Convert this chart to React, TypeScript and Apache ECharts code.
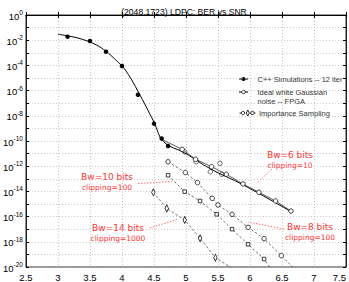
import React, { useEffect, useRef } from 'react';
import * as echarts from 'echarts';

// x: SNR (dB); y: log10(BER)
const xTicks = [2.5, 3, 3.5, 4, 4.5, 5, 5.5, 6, 6.5, 7, 7.5];

const cppSnr = [3.15, 3.5, 3.75, 4.0, 4.25, 4.5, 4.62, 4.72];
const cppLogBer = [-1.72, -2.06, -2.91, -4.05, -6.33, -8.62, -9.8, -10.4];

const cppFitSnr = [3.0, 3.2, 3.4, 3.6, 3.75, 3.9, 4.0, 4.1, 4.25, 4.5, 4.65, 4.98, 5.38, 5.9, 6.64];
const cppFitLogBer = [-1.53, -1.7, -1.96, -2.38, -2.88, -3.55, -4.05, -4.72, -6.05, -8.5, -10.05, -10.95, -12.2, -13.5, -15.6];

const idealSnr = [4.62, 4.94, 5.15, 5.4, 5.63, 5.89, 6.14, 6.4, 6.64];
const idealLogBer = [-9.87, -10.66, -11.45, -12.04, -12.64, -13.41, -14.07, -14.76, -15.56];

const bw6Snr = [4.98, 5.16, 5.38, 5.53, 5.56];
const bw6LogBer = [-10.85, -11.64, -12.44, -11.77, -12.64];

const bw8Snr = [4.72, 4.99, 5.18, 5.41, 5.5, 5.72, 5.97, 6.22, 6.49, 6.76];
const bw8LogBer = [-11.65, -12.5, -13.3, -14.55, -15.08, -15.82, -16.85, -17.75, -19.1, -20.5];

const bw10Snr = [4.72, 4.98, 5.22, 5.48, 5.72, 5.97, 6.22, 6.38];
const bw10LogBer = [-12.72, -14.02, -14.76, -15.82, -17.0, -18.2, -19.37, -20.5];

const bw14Snr = [4.49, 4.7, 4.98, 5.22, 5.46, 5.75];
const bw14LogBer = [-14.07, -15.35, -16.27, -17.72, -19.26, -20.2];

const title = '(2048,1723) LDPC: BER vs SNR';
const legendLabels = ['C++ Simulations -- 12 iter', 'Ideal white Gaussian', 'noise -- FPGA', 'Importance Sampling'];
const annotations = [
  { big: 'Bw=6 bits', small: 'clipping=10', x: 290, y: 155, from: [272, 169], to: [257, 183] },
  { big: 'Bw=8 bits', small: 'clipping=100', x: 310, y: 227, from: [284, 229], to: [248, 222] },
  { big: 'Bw=10 bits', small: 'clipping=100', x: 107, y: 177, from: [138, 183.5], to: [172, 181.5] },
  { big: 'Bw=14 bits', small: 'clipping=1000', x: 118, y: 228, from: [150, 228], to: [177, 219.5] },
];

const zip = (xs: number[], ys: number[]) => xs.map((x, i) => [x, ys[i]]);

export default function App() {
  const ref = useRef<HTMLDivElement>(null);
  useEffect(() => {
    if (!ref.current) return;
    const chart = echarts.init(ref.current, null, { renderer: 'svg' });
    const red = '#ff3030';
    const lineBase = { type: 'line', animation: false, clip: true };
    const bw8Data = zip(bw8Snr, bw8LogBer).map((p, i) => (i === bw8Snr.length - 1 ? { value: p, symbol: 'none' } : p));
    const bw10Data = zip(bw10Snr, bw10LogBer).map((p, i) => (i === bw10Snr.length - 1 ? { value: p, symbol: 'none' } : p));
    const idealData = zip(idealSnr, idealLogBer).map((p, i) => (i === 0 ? { value: p, symbol: 'none' } : p));
    const dashed = { color: '#333', width: 0.7, type: [2.5, 2] };
    const openItem = { color: '#fff', borderColor: '#111', borderWidth: 0.8 };
    const graphics: any[] = [];
    const lx = 239, lx2 = 248;
    const lfont = '7.5px "Liberation Sans"';
    graphics.push(
      { type: 'line', shape: { x1: lx, y1: 79, x2: lx2, y2: 79 }, style: { stroke: '#000', lineWidth: 1 } },
      { type: 'circle', shape: { cx: 243.5, cy: 79, r: 2 }, style: { fill: '#000' } },
      { type: 'text', x: 257.5, y: 79, style: { text: legendLabels[0], font: lfont, fill: '#333', verticalAlign: 'middle' } },
      { type: 'line', shape: { x1: lx, y1: 92, x2: lx2, y2: 92 }, style: { stroke: '#000', lineWidth: 1 } },
      { type: 'circle', shape: { cx: 243.5, cy: 92, r: 1.8 }, style: { fill: '#fff', stroke: '#000', lineWidth: 0.8 } },
      { type: 'text', x: 257.5, y: 92, style: { text: legendLabels[1], font: lfont, fill: '#333', verticalAlign: 'middle' } },
      { type: 'text', x: 257.5, y: 101, style: { text: legendLabels[2], font: lfont, fill: '#333', verticalAlign: 'middle' } },
      { type: 'line', shape: { x1: 239.5, y1: 113, x2: 256, y2: 113 }, style: { stroke: '#000', lineWidth: 0.8, lineDash: [2, 1.5] } },
      { type: 'circle', shape: { cx: 243, cy: 113, r: 1.7 }, style: { fill: '#fff', stroke: '#000', lineWidth: 0.8 } },
      { type: 'polygon', shape: { points: [[247.8, 110], [249.3, 113], [247.8, 116], [246.3, 113]] }, style: { fill: '#fff', stroke: '#000', lineWidth: 0.8 } },
      { type: 'circle', shape: { cx: 252.5, cy: 113, r: 1.7 }, style: { fill: '#fff', stroke: '#000', lineWidth: 0.8 } },
      { type: 'text', x: 259, y: 113, style: { text: legendLabels[3], font: lfont, fill: '#333', verticalAlign: 'middle' } },
    );
    annotations.forEach((a) => {
      graphics.push(
        { type: 'text', x: a.x, y: a.y, style: { text: a.big, font: '9px "DejaVu Sans"', fill: red, align: 'center', verticalAlign: 'middle' } },
        { type: 'text', x: a.x, y: a.y + 10, style: { text: a.small, font: '7.5px "DejaVu Sans"', fill: red, align: 'center', verticalAlign: 'middle' } },
        { type: 'line', shape: { x1: a.from[0], y1: a.from[1], x2: a.to[0], y2: a.to[1] }, style: { stroke: red, lineWidth: 0.7, lineDash: [1.5, 1.5] } },
      );
    });
    const gridLine = { show: true, lineStyle: { color: '#b0b0b0', type: [1, 2], width: 0.7 } };
    chart.setOption({
      animation: false,
      textStyle: { fontFamily: 'Liberation Sans' },
      title: {
        text: title,
        left: 179,
        textAlign: 'center',
        top: 2,
        textStyle: { fontSize: 8.6, fontWeight: 'normal', color: '#000', fontFamily: 'Liberation Sans' },
      },
      grid: { left: 23, right: 1, top: 15, bottom: 15, show: true, borderColor: '#000', borderWidth: 0.8, backgroundColor: 'transparent' },
      xAxis: [
        {
          type: 'value', min: xTicks[0], max: xTicks[xTicks.length - 1], interval: 0.5,
          axisLine: { lineStyle: { color: '#000', width: 0.8 } },
          axisTick: { inside: true, length: 3, lineStyle: { color: '#000' } },
          axisLabel: { color: '#000', fontSize: 9.5, margin: 5, alignMaxLabel: 'right' },
          splitLine: gridLine,
        },
        {
          type: 'value', position: 'top', min: xTicks[0], max: xTicks[xTicks.length - 1], interval: 0.5,
          axisLine: { show: true, lineStyle: { color: '#000', width: 0.8 } },
          axisTick: { inside: true, length: 3, lineStyle: { color: '#000' } },
          axisLabel: { show: false }, splitLine: { show: false },
        },
      ],
      yAxis: [
        {
          type: 'value', min: -20, max: 0, interval: 1,
          axisLine: { show: true, lineStyle: { color: '#000', width: 0.8 } },
          axisTick: { inside: true, length: 3, lineStyle: { color: '#000' } },
          axisLabel: {
            color: '#000', margin: 3,
            formatter: (v: number) => (Math.round(v) % 2 === 0 ? `{b|10}{s|${v}}` : ''),
            rich: {
              b: { fontSize: 9.5, color: '#000', fontFamily: 'Liberation Sans', verticalAlign: 'bottom', lineHeight: 12 },
              s: { fontSize: 6.5, color: '#000', fontFamily: 'Liberation Sans', verticalAlign: 'top', lineHeight: 12 },
            },
          },
          splitLine: gridLine,
        },
        {
          type: 'value', position: 'right', min: -20, max: 0, interval: 1,
          axisLine: { show: true, lineStyle: { color: '#000', width: 0.8 } },
          axisTick: { inside: true, length: 3, lineStyle: { color: '#000' } },
          axisLabel: { show: false }, splitLine: { show: false },
        },
      ],
      series: [
        {
          ...lineBase, name: 'cppFit', data: zip(cppFitSnr, cppFitLogBer), showSymbol: false, symbol: 'none',
          smooth: 0.4, lineStyle: { color: '#000', width: 1 },
        },
        {
          ...lineBase, name: 'C++ Simulations -- 12 iter', data: zip(cppSnr, cppLogBer),
          symbol: 'circle', symbolSize: 4.5, lineStyle: { width: 0 }, itemStyle: { color: '#000' },
        },
        {
          ...lineBase, name: 'Ideal white Gaussian noise -- FPGA', data: idealData,
          symbol: 'circle', symbolSize: 4.5, showAllSymbol: true, lineStyle: { color: '#333', width: 0.8 },
          itemStyle: openItem,
        },
        {
          type: 'scatter', name: 'bw6', data: zip(bw6Snr, bw6LogBer), symbol: 'circle', symbolSize: 4.5,
          itemStyle: openItem,
        },
        {
          ...lineBase, name: 'bw8', data: bw8Data, symbol: 'circle', symbolSize: 4.5, showAllSymbol: true, lineStyle: dashed,
          itemStyle: openItem,
        },
        {
          ...lineBase, name: 'bw10', data: bw10Data, symbol: 'rect', symbolSize: 3.5, showAllSymbol: true, lineStyle: dashed,
          itemStyle: openItem,
        },
        {
          ...lineBase, name: 'bw14', data: zip(bw14Snr, bw14LogBer), symbol: 'diamond', symbolSize: [3.5, 7], showAllSymbol: true, lineStyle: dashed,
          itemStyle: openItem,
        },
      ],
      graphic: graphics,
    });
    return () => chart.dispose();
  }, []);
  return <div ref={ref} style={{ width: 349, height: 282, position: 'absolute', left: 0, top: 0 }} />;
}
